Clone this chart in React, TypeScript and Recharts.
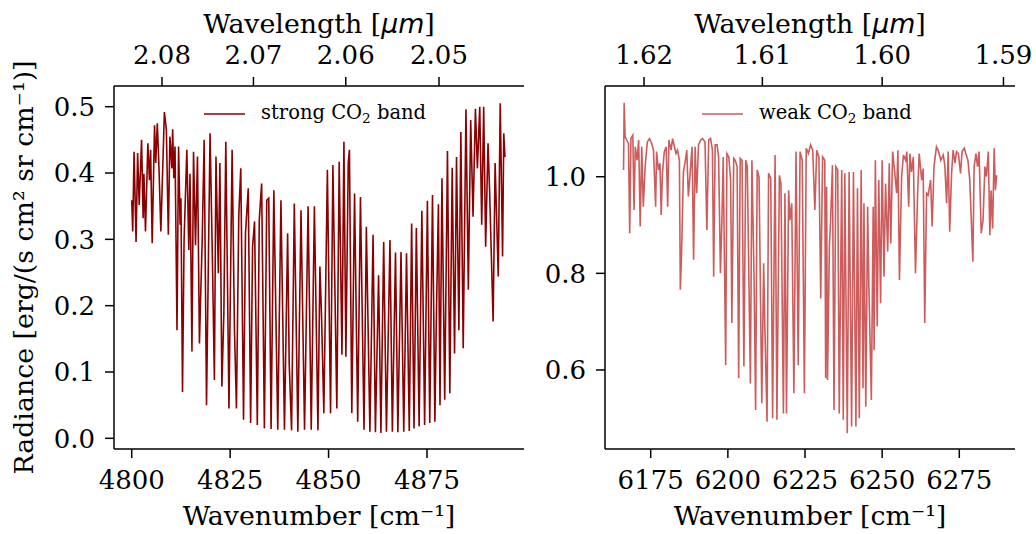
import React from 'react';
import { LineChart, Line, XAxis, YAxis, Legend } from 'recharts';

const FONT = 'DejaVu Serif';

// strong CO2 band (left panel)
const strongWavenumber = [
  4800.0, 4800.25, 4800.6, 4801.1, 4801.5, 4801.9, 4802.5, 4802.9, 4803.1, 4803.5,
  4804.1, 4804.5, 4804.8, 4805.2, 4805.8, 4806.1, 4806.5, 4806.9, 4807.4, 4808.3,
  4808.8, 4809.3, 4809.7, 4810.2, 4810.4, 4810.7, 4811.0, 4811.5, 4811.9, 4812.3,
  4812.5, 4812.9, 4813.3, 4814.0, 4814.5, 4814.8, 4815.3, 4815.7, 4816.2, 4816.7,
  4817.2, 4817.9, 4818.4, 4819.0, 4819.9, 4820.5, 4821.0, 4821.4, 4822.0, 4822.4,
  4822.9, 4823.4, 4823.9, 4824.7, 4825.5, 4826.1, 4826.6, 4827.2, 4827.7, 4828.4,
  4828.9, 4829.6, 4830.2, 4830.7, 4831.2, 4831.9, 4832.4, 4833.0, 4833.7, 4834.3,
  4834.8, 4835.4, 4836.1, 4837.1, 4837.9, 4838.8, 4839.6, 4840.0, 4840.6, 4841.3,
  4842.2, 4843.0, 4843.9, 4844.8, 4845.6, 4846.4, 4847.3, 4847.8, 4848.2, 4848.8,
  4849.7, 4850.5, 4851.1, 4852.1, 4852.7, 4853.4, 4853.9, 4854.4, 4855.0, 4855.3,
  4855.9, 4856.6, 4857.4, 4858.1, 4859.0, 4859.6, 4860.5, 4861.3, 4861.9, 4862.7,
  4863.3, 4864.0, 4864.7, 4865.6, 4866.2, 4867.0, 4867.6, 4868.4, 4869.1, 4869.8,
  4870.5, 4871.1, 4871.7, 4872.3, 4873.0, 4873.7, 4874.4, 4875.1, 4875.7, 4876.4,
  4877.0, 4877.4, 4877.9, 4878.3, 4878.8, 4879.5, 4880.2, 4880.8, 4881.4, 4882.0,
  4882.5, 4883.1, 4883.6, 4884.2, 4884.9, 4885.5, 4886.1, 4886.7, 4887.3, 4887.8,
  4888.4, 4888.9, 4889.4, 4889.9, 4890.5, 4890.9, 4891.8, 4892.3, 4893.1, 4893.6,
  4894.2, 4894.5, 4894.8,
];
const strongRadiance = [
  0.359, 0.312, 0.432, 0.296, 0.430, 0.352, 0.450, 0.332, 0.399, 0.312,
  0.445, 0.389, 0.435, 0.294, 0.472, 0.415, 0.475, 0.412, 0.312, 0.492,
  0.465, 0.307, 0.455, 0.407, 0.466, 0.392, 0.440, 0.163, 0.440, 0.322,
  0.362, 0.070, 0.299, 0.435, 0.284, 0.399, 0.131, 0.432, 0.291, 0.425,
  0.143, 0.299, 0.450, 0.050, 0.460, 0.269, 0.088, 0.425, 0.249, 0.415,
  0.078, 0.188, 0.447, 0.045, 0.435, 0.163, 0.045, 0.337, 0.407, 0.028,
  0.309, 0.377, 0.023, 0.289, 0.327, 0.020, 0.329, 0.384, 0.015, 0.359,
  0.362, 0.014, 0.374, 0.013, 0.359, 0.013, 0.309, 0.113, 0.012, 0.354,
  0.010, 0.344, 0.013, 0.350, 0.013, 0.350, 0.012, 0.259, 0.188, 0.038,
  0.405, 0.038, 0.412, 0.045, 0.417, 0.126, 0.447, 0.123, 0.415, 0.435,
  0.038, 0.369, 0.025, 0.364, 0.013, 0.319, 0.010, 0.307, 0.009, 0.246,
  0.008, 0.296, 0.010, 0.299, 0.010, 0.280, 0.009, 0.281, 0.010, 0.279,
  0.011, 0.324, 0.015, 0.317, 0.018, 0.343, 0.020, 0.358, 0.023, 0.367,
  0.025, 0.188, 0.353, 0.050, 0.392, 0.058, 0.433, 0.068, 0.408, 0.128,
  0.424, 0.163, 0.462, 0.136, 0.496, 0.224, 0.480, 0.334, 0.497, 0.407,
  0.500, 0.322, 0.500, 0.289, 0.445, 0.374, 0.176, 0.415, 0.244, 0.505,
  0.274, 0.460, 0.424,
];

// weak CO2 band (right panel)
const weakWavenumber = [
  6166.2, 6166.4, 6166.7, 6167.2, 6167.8, 6168.2, 6168.6, 6169.2, 6169.6, 6170.0,
  6170.6, 6171.1, 6171.6, 6172.1, 6172.6, 6173.2, 6173.9, 6174.6, 6175.3, 6175.9,
  6176.6, 6176.9, 6177.5, 6178.0, 6178.4, 6178.8, 6179.4, 6180.0, 6180.5, 6180.9,
  6181.6, 6182.1, 6182.7, 6183.2, 6183.7, 6184.3, 6184.6, 6185.0, 6185.6, 6186.1,
  6186.7, 6187.2, 6187.7, 6188.4, 6188.9, 6189.4, 6189.9, 6190.5, 6191.2, 6191.8,
  6192.6, 6193.2, 6193.8, 6194.4, 6195.0, 6195.4, 6195.9, 6196.5, 6197.0, 6197.6,
  6198.1, 6198.5, 6199.3, 6199.7, 6200.3, 6200.9, 6201.3, 6201.9, 6202.4, 6203.0,
  6203.5, 6204.0, 6204.6, 6205.2, 6205.8, 6206.3, 6207.3, 6207.8, 6208.5, 6209.0,
  6209.5, 6210.1, 6211.0, 6211.6, 6212.0, 6212.7, 6213.2, 6213.9, 6214.5, 6215.3,
  6215.9, 6216.7, 6217.2, 6218.0, 6218.5, 6219.0, 6219.7, 6220.1, 6220.7, 6221.4,
  6222.1, 6222.8, 6223.4, 6224.1, 6224.8, 6225.4, 6226.1, 6226.8, 6227.5, 6228.2,
  6228.8, 6229.5, 6230.1, 6230.7, 6231.4, 6231.7, 6232.0, 6232.3, 6232.9, 6233.3,
  6233.9, 6234.4, 6235.0, 6235.6, 6236.1, 6236.9, 6237.4, 6237.9, 6238.7, 6239.3,
  6240.1, 6240.7, 6241.5, 6242.0, 6242.6, 6243.2, 6243.8, 6244.1, 6244.7, 6245.3,
  6245.7, 6246.5, 6247.1, 6247.4, 6247.8, 6248.4, 6248.9, 6249.5, 6250.0, 6250.6,
  6251.1, 6251.8, 6252.3, 6252.8, 6253.4, 6254.0, 6254.7, 6255.1, 6255.6, 6256.3,
  6256.9, 6257.6, 6258.0, 6258.6, 6259.0, 6259.5, 6260.1, 6260.8, 6261.5, 6262.0,
  6262.8, 6263.3, 6263.8, 6264.4, 6264.9, 6265.7, 6266.2, 6266.8, 6267.6, 6268.3,
  6269.0, 6269.8, 6270.3, 6270.9, 6271.4, 6271.9, 6272.5, 6273.0, 6273.6, 6274.1,
  6274.7, 6275.4, 6275.9, 6276.6, 6277.1, 6277.8, 6278.4, 6279.4, 6279.8, 6280.4,
  6280.9, 6281.4, 6282.1, 6282.7, 6283.3, 6283.8, 6284.4, 6284.9, 6285.3, 6285.8,
  6286.3, 6286.7, 6287.1,
];
const weakRadiance = [
  1.014, 1.153, 1.083, 1.076, 1.069, 0.883, 1.079, 1.086, 0.931, 1.062,
  1.034, 1.076, 0.897, 1.062, 0.938, 1.021, 1.072, 1.079, 1.069, 1.055,
  0.938, 1.052, 1.014, 1.028, 0.921, 1.007, 1.052, 1.062, 0.938, 1.076,
  1.055, 1.079, 1.062, 1.048, 1.055, 1.034, 0.766, 0.841, 1.010, 1.028,
  1.055, 0.959, 1.000, 1.062, 0.828, 1.062, 0.966, 1.066, 1.076, 1.079,
  1.072, 0.890, 1.076, 1.079, 1.055, 0.793, 1.066, 1.066, 1.041, 0.800,
  0.917, 1.041, 0.610, 1.048, 1.041, 0.993, 0.697, 1.038, 1.034, 1.021,
  0.583, 1.038, 1.034, 0.607, 1.034, 1.021, 0.572, 1.034, 0.786, 0.517,
  1.014, 1.000, 0.531, 0.821, 0.686, 0.493, 1.007, 0.997, 0.500, 1.045,
  0.497, 1.003, 0.986, 0.510, 0.966, 0.510, 0.972, 0.910, 0.945, 0.552,
  1.052, 0.610, 1.052, 1.034, 0.552, 1.059, 1.048, 1.066, 1.055, 0.931,
  1.055, 1.041, 0.748, 1.041, 1.034, 0.583, 0.979, 0.579, 0.855, 0.910,
  1.024, 0.517, 1.021, 1.014, 0.510, 1.014, 0.497, 1.007, 0.469, 1.010,
  0.483, 1.010, 0.483, 0.976, 0.500, 1.014, 0.562, 0.945, 0.524, 0.938,
  0.772, 0.538, 0.938, 0.641, 1.034, 0.690, 0.993, 0.738, 1.034, 0.793,
  0.986, 0.845, 1.028, 0.862, 1.052, 1.014, 0.966, 1.055, 0.786, 1.000,
  1.045, 1.034, 1.052, 0.938, 1.048, 1.010, 1.041, 0.800, 0.966, 1.048,
  0.993, 1.017, 0.697, 0.966, 0.962, 0.993, 0.897, 1.021, 1.062, 1.052,
  1.034, 1.045, 1.024, 0.945, 1.052, 0.886, 1.007, 1.055, 1.028, 1.052,
  1.048, 1.007, 1.052, 1.059, 1.048, 1.034, 0.993, 0.824, 1.021, 1.048,
  1.021, 1.052, 0.883, 0.910, 1.021, 1.000, 1.052, 0.879, 0.972, 0.893,
  1.059, 0.972, 1.003,
];

const strongXTicks = [4800, 4825, 4850, 4875];
const strongYTicks = [0.0, 0.1, 0.2, 0.3, 0.4, 0.5];
const strongWavelengthTicks = [2.08, 2.07, 2.06, 2.05];
const weakXTicks = [6175, 6200, 6225, 6250, 6275];
const weakYTicks = [0.6, 0.8, 1.0];
const weakWavelengthTicks = [1.62, 1.61, 1.6, 1.59];

const strongXDomain: [number, number] = [4795.5, 4899.64];
const strongYDomain: [number, number] = [-0.0161, 0.5312];
const weakXDomain: [number, number] = [6160.19, 6293.05];
const weakYDomain: [number, number] = [0.4364, 1.1878];

const strongData = strongWavenumber.map((wn, i) => ({ wn, v: strongRadiance[i] }));
const weakData = weakWavenumber.map((wn, i) => ({ wn, v: weakRadiance[i] }));

const TICK_FONT = 26;
const LABEL_FONT = 26.8;
const TICK_SIZE = 9;
const tickStyle = { fill: '#000', fontSize: TICK_FONT, style: { fontFamily: FONT } };
const lineStyle = { stroke: '#000', strokeWidth: 1.5 };

const TopLabel = (props: any) => {
  const vb = props.viewBox || {};
  const cx = vb.x + vb.width / 2;
  return (
    <text x={cx} y={vb.y + 33} textAnchor="middle" style={{ fontFamily: FONT }} fontSize={LABEL_FONT} fill="#000">
      Wavelength [<tspan style={{ fontFamily: 'DejaVu Sans', fontStyle: 'italic' }}>µm</tspan>]
    </text>
  );
};

const BottomLabel = (props: any) => {
  const vb = props.viewBox || {};
  const cx = vb.x + vb.width / 2;
  return (
    <text x={cx} y={vb.y + 76} textAnchor="middle" style={{ fontFamily: FONT }} fontSize={LABEL_FONT} fill="#000">
      Wavenumber [cm⁻¹]
    </text>
  );
};

const SideLabel = (props: any) => {
  const vb = props.viewBox || {};
  const x = vb.x + 33;
  const y = vb.y + vb.height / 2;
  return (
    <text x={x} y={y} transform={`rotate(-90, ${x}, ${y})`} textAnchor="middle" style={{ fontFamily: FONT }} fontSize={LABEL_FONT} fill="#000">
      Radiance [erg/(s cm² sr cm⁻¹)]
    </text>
  );
};

const LegendItem = ({ color, name }: { color: string; name: string }) => (
  <div style={{ display: 'flex', alignItems: 'center', fontFamily: FONT, fontSize: 19.5, color: '#000', whiteSpace: 'nowrap', lineHeight: '22px' }}>
    <svg width={41} height={4} style={{ display: 'block' }}>
      <line x1={0} y1={2} x2={41} y2={2} stroke={color} strokeWidth={1.6} />
    </svg>
    <span style={{ marginLeft: 16 }}>
      {name} CO<span style={{ fontSize: '0.7em', position: 'relative', top: '0.3em' }}>2</span> band
    </span>
  </div>
);

const wlFormat = (v: number) => (1e4 / v).toFixed(2);

export default function App() {
  return (
    <div style={{ position: 'absolute', left: 0, top: 0, width: 1036, height: 534, background: '#fff', fontFamily: FONT }}>
      <div style={{ position: 'absolute', left: 0, top: 0 }}>
        <LineChart width={540} height={534} data={strongData} margin={{ top: 0, right: 16, bottom: 0, left: 0 }}>
          <XAxis
            dataKey="wn" type="number" domain={strongXDomain} allowDataOverflow ticks={strongXTicks} interval={0}
            height={85} tick={tickStyle} tickLine={lineStyle} axisLine={lineStyle} tickSize={TICK_SIZE} tickMargin={13}
            label={<BottomLabel />}
          />
          <XAxis
            xAxisId="top" orientation="top" dataKey="wn" type="number" domain={strongXDomain} allowDataOverflow
            ticks={strongWavelengthTicks.map((l) => 1e4 / l)} interval={0} tickFormatter={wlFormat}
            height={86} tick={tickStyle} tickLine={lineStyle} axisLine={lineStyle} tickSize={TICK_SIZE} tickMargin={13.5}
            label={<TopLabel />}
          />
          <YAxis
            dataKey="v" type="number" domain={strongYDomain} allowDataOverflow ticks={strongYTicks} interval={0}
            tickFormatter={(v: number) => v.toFixed(1)}
            width={114} tick={tickStyle} tickLine={lineStyle} axisLine={lineStyle} tickSize={TICK_SIZE} tickMargin={10}
            label={<SideLabel />}
          />
          <YAxis yAxisId="frame" orientation="right" type="number" domain={[0, 1]} width={0} tick={false} tickLine={false} axisLine={lineStyle} />
          <Legend
            layout="vertical" align="center" verticalAlign="middle"
            wrapperStyle={{ left: 204, top: 102, width: 'auto' }}
            content={() => <LegendItem color="#8b0000" name="strong" />}
          />
          <Line type="linear" dataKey="v" stroke="#8b0000" strokeWidth={1.6} dot={false} isAnimationActive={false} />
        </LineChart>
      </div>
      <div style={{ position: 'absolute', left: 540, top: 0 }}>
        <LineChart width={496} height={534} data={weakData} margin={{ top: 0, right: 21, bottom: 0, left: 0 }}>
          <XAxis
            dataKey="wn" type="number" domain={weakXDomain} allowDataOverflow ticks={weakXTicks} interval={0}
            height={85} tick={tickStyle} tickLine={lineStyle} axisLine={lineStyle} tickSize={TICK_SIZE} tickMargin={13}
            label={<BottomLabel />}
          />
          <XAxis
            xAxisId="top" orientation="top" dataKey="wn" type="number" domain={weakXDomain} allowDataOverflow
            ticks={weakWavelengthTicks.map((l) => 1e4 / l)} interval={0} tickFormatter={wlFormat}
            height={86} tick={tickStyle} tickLine={lineStyle} axisLine={lineStyle} tickSize={TICK_SIZE} tickMargin={13.5}
            label={<TopLabel />}
          />
          <YAxis
            dataKey="v" type="number" domain={weakYDomain} allowDataOverflow ticks={weakYTicks} interval={0}
            tickFormatter={(v: number) => v.toFixed(1)}
            width={65} tick={tickStyle} tickLine={lineStyle} axisLine={lineStyle} tickSize={TICK_SIZE} tickMargin={10}
          />
          <YAxis yAxisId="frame" orientation="right" type="number" domain={[0, 1]} width={0} tick={false} tickLine={false} axisLine={lineStyle} />
          <Legend
            layout="vertical" align="center" verticalAlign="middle"
            wrapperStyle={{ left: 162, top: 102, width: 'auto' }}
            content={() => <LegendItem color="#cd5c5c" name="weak" />}
          />
          <Line type="linear" dataKey="v" stroke="#cd5c5c" strokeWidth={1.6} dot={false} isAnimationActive={false} />
        </LineChart>
      </div>
    </div>
  );
}
